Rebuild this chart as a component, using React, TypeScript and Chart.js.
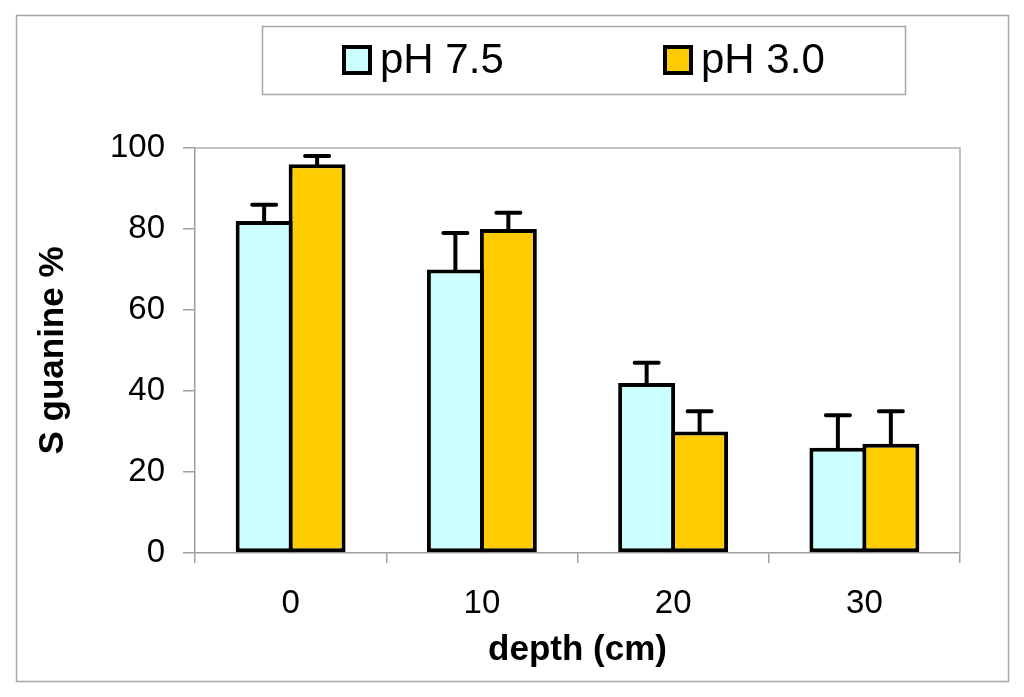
import { useEffect, useRef } from "react"
import { Chart, type ChartConfiguration, type Plugin, registerables } from "chart.js"

Chart.register(...registerables)

// depth categories (cm)
const categories = ["0", "10", "20", "30"]
const seriesNames = ["pH 7.5", "pH 3.0"]
const ph75 = [82, 70, 42, 26]
const ph30 = [96, 80, 30, 27]
// upper end of the error bars (value + sd)
const ph75Err = [86, 79, 47, 34]
const ph30Err = [98, 84, 35, 35]
const yTickLabels = [0, 20, 40, 60, 80, 100]

const FONT = "'Liberation Sans', Arial, sans-serif"
const CYAN = "#ccffff"
const YELLOW = "#ffcc00"

const errorBars: Plugin<"bar"> = {
  id: "errorBars",
  afterDatasetsDraw(chart) {
    const { ctx } = chart
    const y = chart.scales.y
    const tops = [ph75Err, ph30Err]
    ctx.save()
    ctx.strokeStyle = "#000"
    ctx.lineWidth = 4
    ctx.lineCap = "round"
    chart.data.datasets.forEach((_, i) => {
      const meta = chart.getDatasetMeta(i)
      meta.data.forEach((bar: any, j) => {
        const top = y.getPixelForValue(tops[i][j])
        ctx.beginPath()
        ctx.moveTo(bar.x, bar.y)
        ctx.lineTo(bar.x, top)
        ctx.moveTo(bar.x - 12, top)
        ctx.lineTo(bar.x + 12, top)
        ctx.stroke()
      })
    })
    ctx.restore()
  },
}

const frame: Plugin<"bar"> = {
  id: "frame",
  beforeDraw(chart) {
    const { ctx, width, height } = chart
    ctx.save()
    ctx.fillStyle = "#fff"
    ctx.fillRect(0, 0, width, height)
    ctx.strokeStyle = "#a6a6a6"
    ctx.lineWidth = 1.5
    ctx.strokeRect(8.5, 7.5, 992, 666)
    ctx.restore()
  },
  afterDraw(chart) {
    const { ctx, chartArea } = chart
    ctx.save()
    // plot area border (top and right)
    ctx.strokeStyle = "#b0b0b0"
    ctx.lineWidth = 1.5
    ctx.beginPath()
    ctx.moveTo(chartArea.left, chartArea.top)
    ctx.lineTo(chartArea.right, chartArea.top)
    ctx.lineTo(chartArea.right, chartArea.bottom)
    ctx.stroke()

    // legend box
    ctx.strokeStyle = "#a6a6a6"
    ctx.strokeRect(254.5, 18.5, 643, 68)
    const markerX = [334, 655]
    ctx.font = `42px ${FONT}`
    ctx.textBaseline = "middle"
    ctx.textAlign = "left"
    chart.data.datasets.forEach((ds, i) => {
      ctx.fillStyle = ds.backgroundColor as string
      ctx.fillRect(markerX[i] + 2, 39, 26, 26)
      ctx.strokeStyle = "#000"
      ctx.lineWidth = 4
      ctx.strokeRect(markerX[i] + 2, 39, 26, 26)
      ctx.fillStyle = "#000"
      ctx.fillText(ds.label as string, markerX[i] + 38, 53)
    })
    ctx.restore()
  },
}

function BarChart() {
  const chartRef = useRef<HTMLCanvasElement>(null)
  const chartInstance = useRef<Chart | null>(null)

  useEffect(() => {
    if (!chartRef.current) return
    if (chartInstance.current) chartInstance.current.destroy()
    const ctx = chartRef.current.getContext("2d")
    if (!ctx) return

    const config: ChartConfiguration<"bar"> = {
      type: "bar",
      data: {
        labels: categories,
        datasets: [
          {
            label: seriesNames[0],
            data: ph75,
            backgroundColor: CYAN,
            borderColor: "#000",
            borderWidth: 4,
            borderSkipped: false,
          },
          {
            label: seriesNames[1],
            data: ph30,
            backgroundColor: YELLOW,
            borderColor: "#000",
            borderWidth: 4,
            borderSkipped: false,
          },
        ],
      },
      options: {
        responsive: true,
        maintainAspectRatio: false,
        animation: false,
        layout: { padding: { left: 0, top: 140, right: 56, bottom: 0 } },
        // bars overlap by one border width so the shared edge is a single line
        datasets: { bar: { categoryPercentage: 0.554, barPercentage: 1.075 } },
        plugins: {
          legend: { display: false },
          tooltip: { enabled: false },
        },
        scales: {
          x: {
            afterFit: (scale) => {
              scale.height = 135
            },
            grid: {
              drawOnChartArea: false,
              drawTicks: true,
              tickLength: 10,
              color: "#a0a0a0",
              lineWidth: 1.5,
            },
            border: { color: "#a0a0a0", width: 1.5 },
            ticks: {
              color: "#000",
              padding: 21,
              font: { family: FONT, size: 33 },
            },
            title: {
              display: true,
              text: "depth (cm)",
              color: "#000",
              font: { family: FONT, size: 35, weight: "bold", lineHeight: 1.2 },
              padding: { top: 0, bottom: 17 },
            },
          },
          y: {
            min: 0,
            max: 100,
            afterFit: (scale) => {
              scale.width = 187
            },
            grid: {
              drawOnChartArea: false,
              drawTicks: true,
              tickLength: 12,
              color: "#a0a0a0",
              lineWidth: 1.5,
            },
            border: { color: "#a0a0a0", width: 1.5 },
            ticks: {
              stepSize: 10,
              color: "#000",
              padding: 18,
              font: { family: FONT, size: 33 },
              callback: (v) => (yTickLabels.includes(Number(v)) ? String(v) : ""),
            },
            title: {
              display: true,
              text: "S guanine %",
              color: "#000",
              font: { family: FONT, size: 35, weight: "bold", lineHeight: 1.2 },
              padding: { top: 24, bottom: 0 },
            },
          },
        },
      },
      plugins: [frame, errorBars],
    }

    chartInstance.current = new Chart(ctx, config)

    return () => {
      if (chartInstance.current) {
        chartInstance.current.destroy()
        chartInstance.current = null
      }
    }
  }, [])

  return (
    <div style={{ width: 1008, height: 680, position: "relative" }}>
      <canvas ref={chartRef} />
    </div>
  )
}

export default function App() {
  return <BarChart />
}
